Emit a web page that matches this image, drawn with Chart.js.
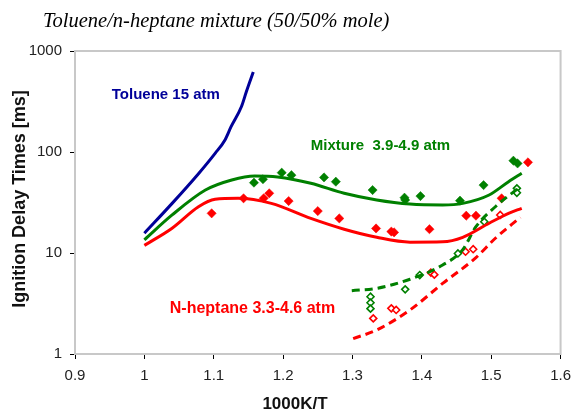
<!DOCTYPE html>
<html>
<head>
<meta charset="utf-8">
<script src="https://cdn.jsdelivr.net/npm/chart.js@4.4.1/dist/chart.umd.min.js"></script>
<style>
  html, body { margin: 0; padding: 0; background: #fff; }
  #wrap { width: 579px; height: 415px; }
</style>
</head>
<body>
<div id="wrap"><canvas id="idtChart" width="579" height="415"></canvas></div>
<script>
// axis ticks
const xTicks = [0.9, 1.0, 1.1, 1.2, 1.3, 1.4, 1.5, 1.6];
const yTicks = [1, 10, 100, 1000];

// model curves (1000K/T, ms)
const tolueneX = [1.0, 1.04, 1.078, 1.102, 1.116, 1.125, 1.14, 1.147, 1.157];
const tolueneY = [15.7, 31, 61, 97, 131, 178, 282, 395, 620];

const mixX = [1.0, 1.04, 1.088, 1.126, 1.159, 1.192, 1.24, 1.288, 1.335, 1.383, 1.43, 1.459, 1.497, 1.525, 1.544];
const mixY = [13.5, 23.8, 42, 52.8, 57.8, 56.5, 49, 39, 33.5, 30.5, 29.9, 31, 37.5, 50.8, 61.5];

const hepX = [1.0, 1.04, 1.078, 1.102, 1.135, 1.183, 1.24, 1.288, 1.335, 1.383, 1.43, 1.459, 1.497, 1.525, 1.544];
const hepY = [11.9, 17.6, 28.7, 34, 34.8, 31, 22, 17.2, 14.3, 12.8, 12.9, 14.3, 19.7, 24.7, 27.7];

const mixLowX = [1.299, 1.335, 1.383, 1.43, 1.459, 1.478, 1.506, 1.542];
const mixLowY = [4.24, 4.47, 5.5, 7.6, 10.8, 18.2, 28.7, 45.4];

const hepLowX = [1.301, 1.335, 1.383, 1.43, 1.478, 1.506, 1.542];
const hepLowY = [1.42, 1.73, 2.73, 5.0, 9.0, 14.0, 22.5];

// measurements
const mixExpX = [1.158, 1.171, 1.198, 1.212, 1.259, 1.276, 1.329, 1.375, 1.376, 1.398, 1.455, 1.489, 1.532, 1.538];
const mixExpY = [49.7, 53.7, 62.4, 59, 56, 50.8, 42, 35.3, 33.5, 36.6, 33, 47, 82, 77];

const hepExpX = [1.097, 1.143, 1.172, 1.18, 1.208, 1.25, 1.281, 1.334, 1.356, 1.36, 1.411, 1.464, 1.478, 1.515, 1.553];
const hepExpY = [24.7, 34.8, 34.8, 39, 32.7, 26, 22, 17.5, 16.3, 16, 17.2, 23.4, 23.4, 34.8, 79];

const mixOpenX = [1.326, 1.326, 1.326, 1.376, 1.397, 1.452, 1.49, 1.537, 1.537];
const mixOpenY = [3.69, 3.22, 2.81, 4.37, 6.05, 9.9, 20.4, 43.7, 39.5];

const hepOpenX = [1.33, 1.356, 1.363, 1.413, 1.418, 1.463, 1.474, 1.513];
const hepOpenY = [2.25, 2.83, 2.73, 6.4, 6.1, 10.3, 10.9, 23.8];

// in-plot labels (N-heptane one is anchored at its right end)
const labelText = ['Toluene 15 atm', 'Mixture  3.9-4.9 atm', 'N-heptane 3.3-4.6 atm'];
const labelX = [0.953, 1.24, 1.275];
const labelY = [366, 116, 2.79];
const labelAlign = ['left', 'left', 'right'];
const labelSize = [15, 15, 16];
const labelColor = ['#000099', '#008000', '#ff0000'];

const chartTitle = 'Toluene/n-heptane mixture (50/50% mole)';
const xTitle = '1000K/T';
const yTitle = 'Ignition Delay Times [ms]';

const GREEN = '#008000';
const RED = '#ff0000';
const BLUE = '#000099';
const SANS = '"Liberation Sans", Arial, sans-serif';

function pts(xs, ys) {
  return xs.map((x, i) => ({ x: x, y: ys[i] }));
}

function curve(xs, ys, color, dashed) {
  return {
    type: 'line',
    data: pts(xs, ys),
    borderColor: color,
    borderWidth: 3,
    borderDash: dashed ? [8, 5] : [],
    pointRadius: 0,
    fill: false,
    tension: 0.4,
    cubicInterpolationMode: 'monotone'
  };
}

function markers(xs, ys, color, open) {
  return {
    type: 'scatter',
    data: pts(xs, ys),
    pointStyle: 'rectRot',
    pointRadius: open ? 3.5 : 4.6,
    pointBackgroundColor: open ? '#ffffff' : color,
    pointBorderColor: color,
    pointBorderWidth: open ? 1.6 : 0.5,
    showLine: false
  };
}

// frame, titles and curve labels
const decorPlugin = {
  id: 'decor',
  afterDraw(chart) {
    const { ctx, chartArea, scales } = chart;
    ctx.save();
    ctx.strokeStyle = '#c8c8c8';
    ctx.lineWidth = 2;
    ctx.strokeRect(chartArea.left, chartArea.top, chartArea.right - chartArea.left, chartArea.bottom - chartArea.top);

    ctx.fillStyle = '#000';
    ctx.font = 'italic 20.5px "Liberation Serif", "Times New Roman", serif';
    ctx.textBaseline = 'alphabetic';
    ctx.textAlign = 'left';
    ctx.fillText(chartTitle, 43, 27);

    ctx.fillStyle = '#111';
    ctx.textAlign = 'center';
    ctx.textBaseline = 'middle';
    ctx.font = 'bold 17px ' + SANS;
    ctx.fillText(xTitle, 295, 404);
    ctx.save();
    ctx.font = 'bold 18px ' + SANS;
    ctx.translate(20, 199);
    ctx.rotate(-Math.PI / 2);
    ctx.fillText(yTitle, 0, 0);
    ctx.restore();

    ctx.textBaseline = 'middle';
    for (let i = 0; i < labelText.length; i++) {
      ctx.font = 'bold ' + labelSize[i] + 'px ' + SANS;
      ctx.fillStyle = labelColor[i];
      ctx.textAlign = labelAlign[i];
      ctx.fillText(labelText[i], scales.x.getPixelForValue(labelX[i]), scales.y.getPixelForValue(labelY[i]));
    }
    ctx.restore();
  }
};

const ctx = document.getElementById('idtChart');
new Chart(ctx, {
  data: {
    datasets: [
      curve(tolueneX, tolueneY, BLUE, false),
      curve(mixX, mixY, GREEN, false),
      curve(hepX, hepY, RED, false),
      curve(mixLowX, mixLowY, GREEN, true),
      curve(hepLowX, hepLowY, RED, true),
      markers(mixExpX, mixExpY, GREEN, false),
      markers(hepExpX, hepExpY, RED, false),
      markers(mixOpenX, mixOpenY, GREEN, true),
      markers(hepOpenX, hepOpenY, RED, true)
    ]
  },
  options: {
    responsive: false,
    animation: false,
    devicePixelRatio: 1,
    layout: { padding: { top: 51, right: 13, left: 0, bottom: 0 } },
    plugins: {
      legend: { display: false },
      tooltip: { enabled: false }
    },
    scales: {
      x: {
        type: 'linear',
        min: 0.9,
        max: 1.6,
        afterBuildTicks: (scale) => { scale.ticks = xTicks.map(v => ({ value: v })); },
        afterFit: (scale) => { scale.height = 61; },
        ticks: {
          color: '#222',
          font: { family: SANS, size: 15 },
          padding: 8,
          maxRotation: 0,
          callback: (v) => String(Math.round(v * 10) / 10)
        },
        grid: { drawOnChartArea: false, color: '#000', tickColor: '#000', tickLength: 5 },
        border: { display: false }
      },
      y: {
        type: 'logarithmic',
        min: 1,
        max: 1000,
        afterBuildTicks: (scale) => { scale.ticks = yTicks.map(v => ({ value: v })); },
        afterFit: (scale) => { scale.width = 75; },
        ticks: {
          color: '#222',
          font: { family: SANS, size: 15 },
          padding: 8,
          callback: (v) => String(v)
        },
        grid: { drawOnChartArea: false, color: '#000', tickColor: '#000', tickLength: 5 },
        border: { display: false }
      }
    }
  },
  plugins: [decorPlugin]
});
</script>
</body>
</html>
